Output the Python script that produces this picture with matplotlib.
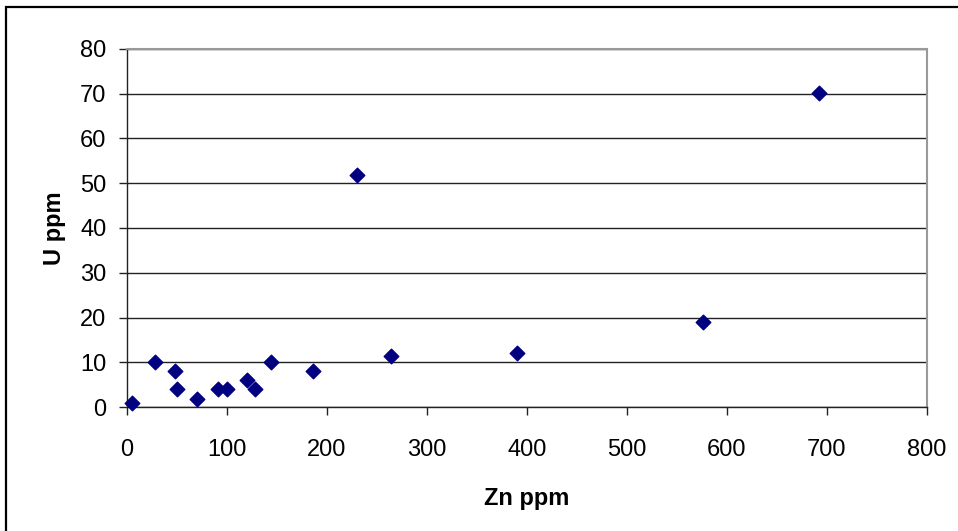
import matplotlib.pyplot as plt
from matplotlib.patches import Rectangle

plt.rcParams['font.family'] = ['Liberation Sans', 'DejaVu Sans']

# Zn vs U concentrations (ppm)
zn_ppm = [5, 28, 48, 50, 70, 91, 100, 120, 128, 144, 186, 230, 264, 390, 576, 692]
u_ppm = [1, 10, 8.1, 4.1, 1.8, 4.1, 4, 6, 4, 10, 8.1, 51.8, 11.4, 12.1, 19.1, 70.2]

x_ticks = [0, 100, 200, 300, 400, 500, 600, 700, 800]
y_ticks = [0, 10, 20, 30, 40, 50, 60, 70, 80]

fig = plt.figure(figsize=(9.58, 5.31), dpi=100)

# outer chart frame (only top/left visible in the picture)
fig.patches.append(Rectangle((6 / 958, -0.1), 1.2, (531 - 7) / 531 + 0.1,
                             transform=fig.transFigure, fill=False,
                             edgecolor='black', linewidth=1.6))

ax = fig.add_axes([127 / 958, 124 / 531, 800 / 958, 358 / 531])

ax.set_axisbelow(True)
ax.grid(axis='y', color='#222222', linewidth=1)
ax.scatter(zn_ppm, u_ppm, marker='D', s=55, color='#000080', zorder=3, clip_on=False)

ax.set_xlim(0, 800)
ax.set_ylim(0, 80)
ax.set_xticks(x_ticks)
ax.set_yticks(y_ticks)

for side in ['top', 'right']:
    ax.spines[side].set_color('#999999')
    ax.spines[side].set_linewidth(1.5)
for side in ['left', 'bottom']:
    ax.spines[side].set_color('#222222')
    ax.spines[side].set_linewidth(1)

ax.tick_params(axis='both', direction='out', length=5.8, width=1, color='#222222',
               labelsize=17)
ax.tick_params(axis='x', pad=17)
ax.tick_params(axis='y', pad=9)

ax.set_xlabel('Zn ppm', fontsize=17, fontweight='bold', labelpad=19)
ax.set_ylabel('U ppm', fontsize=17, fontweight='bold', labelpad=10)

fig.savefig('out.png', dpi=100)
